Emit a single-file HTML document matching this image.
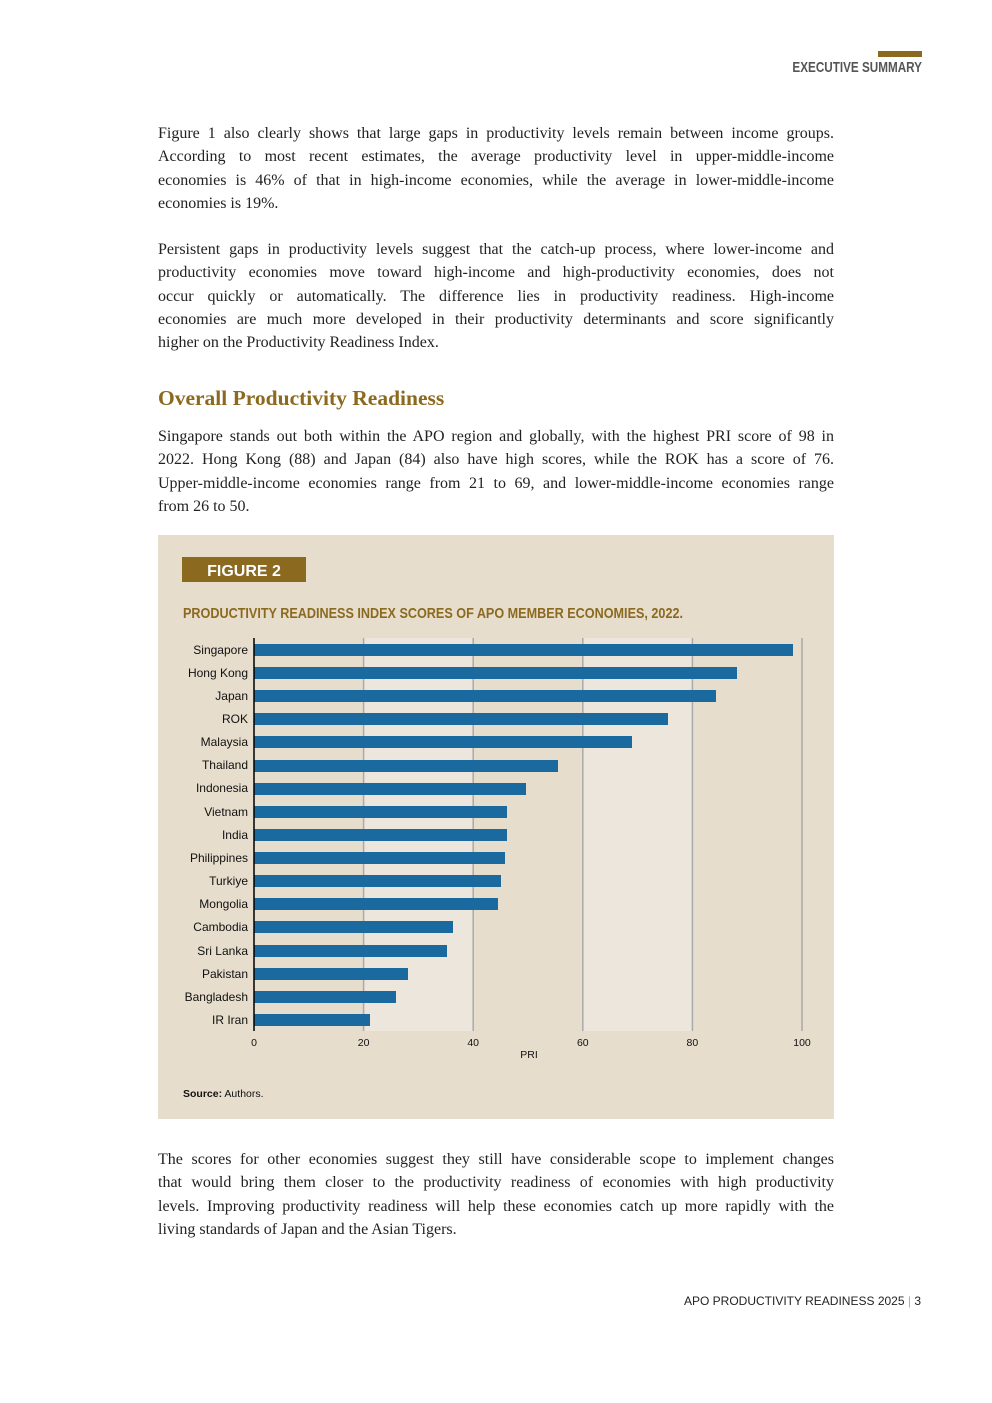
<!DOCTYPE html>
<html><head><meta charset="utf-8"><style>
body{margin:0;background:#fff;}
#p{position:relative;width:992px;height:1403px;overflow:hidden;background:#fff;font-family:"Liberation Serif",serif;color:#222;}
.t{position:absolute;left:158px;width:676px;font-size:16px;line-height:23.3px;}
.t div{text-align:justify;text-align-last:justify;white-space:nowrap;height:23.3px}
.t div.l{text-align-last:left}
</style></head><body><div id="p">
<div style="position:absolute;left:878px;top:51px;width:44px;height:6px;background:#8b6a1f"></div>
<div style="position:absolute;left:700px;top:59px;width:222px;text-align:right;font-family:'Liberation Sans',sans-serif;font-weight:bold;font-size:15px;color:#555;transform:scaleX(0.78);transform-origin:right">EXECUTIVE SUMMARY</div>

<div class="t" style="top:122px">
<div>Figure 1 also clearly shows that large gaps in productivity levels remain between income groups.</div>
<div>According to most recent estimates, the average productivity level in upper-middle-income</div>
<div>economies is 46% of that in high-income economies, while the average in lower-middle-income</div>
<div class="l">economies is 19%.</div>
</div>
<div class="t" style="top:238px">
<div>Persistent gaps in productivity levels suggest that the catch-up process, where lower-income and</div>
<div>productivity economies move toward high-income and high-productivity economies, does not</div>
<div>occur quickly or automatically. The difference lies in productivity readiness. High-income</div>
<div>economies are much more developed in their productivity determinants and score significantly</div>
<div class="l">higher on the Productivity Readiness Index.</div>
</div>
<div style="position:absolute;left:158px;top:386px;font-size:21.5px;font-weight:bold;color:#8b6a1f">Overall Productivity Readiness</div>
<div class="t" style="top:425px">
<div>Singapore stands out both within the APO region and globally, with the highest PRI score of 98 in</div>
<div>2022. Hong Kong (88) and Japan (84) also have high scores, while the ROK has a score of 76.</div>
<div>Upper-middle-income economies range from 21 to 69, and lower-middle-income economies range</div>
<div class="l">from 26 to 50.</div>
</div>

<svg style="position:absolute;left:158px;top:535px" width="676" height="584" font-family="Liberation Sans, sans-serif">
<rect width="676" height="584" fill="#e6ddcc"/>
<rect x="24" y="22" width="124" height="25" fill="#8b6a1f"/>
<text x="86" y="41" fill="#fff" font-weight="bold" font-size="16" text-anchor="middle">FIGURE 2</text>
<text x="25" y="83" fill="#8b6a1f" font-weight="bold" font-size="15" textLength="500" lengthAdjust="spacingAndGlyphs">PRODUCTIVITY READINESS INDEX SCORES OF APO MEMBER ECONOMIES, 2022.</text>
<rect x="205.6" y="103" width="109.6" height="393" fill="#ede6dc"/>
<rect x="424.8" y="103" width="109.6" height="393" fill="#ede6dc"/>
<g stroke="#aaa" stroke-width="1.5">
<line x1="205.6" y1="103" x2="205.6" y2="496"/><line x1="315.2" y1="103" x2="315.2" y2="496"/>
<line x1="424.8" y1="103" x2="424.8" y2="496"/><line x1="534.4" y1="103" x2="534.4" y2="496"/>
<line x1="644" y1="103" x2="644" y2="496"/></g>
<g fill="#1a6aa0">
<rect x="96" y="109" width="539" height="12"/>
<rect x="96" y="132" width="483" height="12"/>
<rect x="96" y="155" width="462" height="12"/>
<rect x="96" y="178" width="414" height="12"/>
<rect x="96" y="201" width="378" height="12"/>
<rect x="96" y="225" width="304" height="12"/>
<rect x="96" y="248" width="272" height="12"/>
<rect x="96" y="271" width="253" height="12"/>
<rect x="96" y="294" width="253" height="12"/>
<rect x="96" y="317" width="251" height="12"/>
<rect x="96" y="340" width="247" height="12"/>
<rect x="96" y="363" width="244" height="12"/>
<rect x="96" y="386" width="199" height="12"/>
<rect x="96" y="410" width="193" height="12"/>
<rect x="96" y="433" width="154" height="12"/>
<rect x="96" y="456" width="142" height="12"/>
<rect x="96" y="479" width="116" height="12"/>
</g>
<line x1="96" y1="103" x2="96" y2="496" stroke="#000" stroke-width="1.5"/>
<g font-size="12" fill="#111" text-anchor="end">
<text x="90" y="119">Singapore</text><text x="90" y="142">Hong Kong</text><text x="90" y="165">Japan</text>
<text x="90" y="188">ROK</text><text x="90" y="211">Malaysia</text><text x="90" y="234">Thailand</text>
<text x="90" y="257">Indonesia</text><text x="90" y="281">Vietnam</text><text x="90" y="304">India</text>
<text x="90" y="327">Philippines</text><text x="90" y="350">Turkiye</text><text x="90" y="373">Mongolia</text>
<text x="90" y="396">Cambodia</text><text x="90" y="420">Sri Lanka</text><text x="90" y="443">Pakistan</text>
<text x="90" y="466">Bangladesh</text><text x="90" y="489">IR Iran</text>
</g>
<g font-size="10.5" fill="#111" text-anchor="middle">
<text x="96" y="511">0</text><text x="205.6" y="511">20</text><text x="315.2" y="511">40</text>
<text x="424.8" y="511">60</text><text x="534.4" y="511">80</text><text x="644" y="511">100</text>
<text x="371" y="523">PRI</text>
</g>
<text x="25" y="562" font-size="10.5" fill="#111"><tspan font-weight="bold">Source:</tspan> Authors.</text>
</svg>

<div class="t" style="top:1148px">
<div>The scores for other economies suggest they still have considerable scope to implement changes</div>
<div>that would bring them closer to the productivity readiness of economies with high productivity</div>
<div>levels. Improving productivity readiness will help these economies catch up more rapidly with the</div>
<div class="l">living standards of Japan and the Asian Tigers.</div>
</div>
<div style="position:absolute;left:600px;top:1294px;width:321px;text-align:right;font-family:'Liberation Sans',sans-serif;font-size:12px;color:#222">APO PRODUCTIVITY READINESS 2025 <span style="color:#aaa">|</span> 3</div>
</div></body></html>
